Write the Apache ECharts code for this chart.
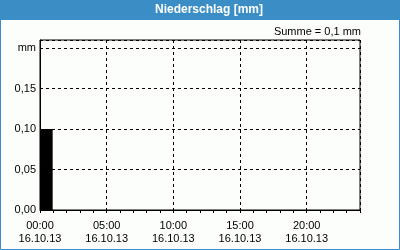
<!DOCTYPE html>
<html>
<head>
<meta charset="utf-8">
<script src="https://cdn.jsdelivr.net/npm/echarts@6/dist/echarts.min.js"></script>
<style>
html,body{margin:0;padding:0;background:#fcfefc;}
#chart{width:400px;height:250px;}
</style>
</head>
<body>
<div id="chart"></div>
<script>
// Hourly categories (16.10.13, 00:00 .. 23:00)
var hours = ['00','01','02','03','04','05','06','07','08','09','10','11',
             '12','13','14','15','16','17','18','19','20','21','22','23'];
// Hourly precipitation [mm]
var precipitation = [0.1,0,0,0,0,0,0,0,0,0,0,0,0,0,0,0,0,0,0,0,0,0,0,0];
// Tick labels
var timeLabels = ['00:00','05:00','10:00','15:00','20:00'];
var dateLabel = '16.10.13';
var yLabels = ['0,00','0,05','0,10','0,15','mm'];
var titleText = 'Niederschlag [mm]';

var total = precipitation.reduce(function(a,b){return a+b;},0);
var sumText = 'Summe = ' + total.toFixed(1).replace('.', ',') + ' mm';

var FONT = '"Liberation Sans", Arial, sans-serif';
var BLUE = '#3b8ec5';

var chart = echarts.init(document.getElementById('chart'), null, {renderer:'canvas'});
chart.setOption({
  animation: false,
  backgroundColor: '#fcfefc',
  grid: {left: 40, top: 40, right: 40, bottom: 40, show: true,
         borderColor: '#000', borderWidth: 1, backgroundColor: 'transparent'},
  graphic: [
    {type:'rect', shape:{x:0,y:0,width:400,height:20}, style:{fill:BLUE}, z:-1},
    {type:'rect', shape:{x:0.5,y:0.5,width:399,height:249}, style:{fill:null, stroke:BLUE, lineWidth:1}, z:-1},
    {type:'text', x:209, y:10, style:{text:titleText, fill:'#fff', font:'bold 12px ' + FONT,
      align:'center', verticalAlign:'middle'}},
    {type:'text', x:361, y:32, style:{text:sumText, fill:'#000', font:'11px ' + FONT,
      align:'right', verticalAlign:'middle'}}
  ],
  xAxis: [
    {
      type: 'category', data: hours, position: 'bottom', boundaryGap: true,
      axisLine: {show: true, lineStyle: {color: '#000', width: 1}},
      axisTick: {show: true, interval: 0, length: 3, lineStyle: {color: '#000'}},
      axisLabel: {show: false},
      splitLine: {show: false}
    },
    {
      type: 'value', min: 0, max: 24, interval: 5, position: 'bottom',
      axisLine: {show: false}, axisTick: {show: false},
      axisLabel: {
        show: true, margin: 9, fontFamily: FONT, fontSize: 11, color: '#000', lineHeight: 13,
        showMaxLabel: false,
        formatter: function (v) {
          var i = Math.round(v / 5);
          if (Math.abs(v - i * 5) > 1e-6 || !timeLabels[i]) return '';
          return timeLabels[i] + '\n' + dateLabel;
        }
      },
      splitLine: {show: true, lineStyle: {color: '#000', type: [3, 3], width: 1}}
    }
  ],
  yAxis: {
    type: 'value', min: 0, max: 0.21, interval: 0.05,
    axisLine: {show: true, lineStyle: {color: '#000', width: 1}},
    axisTick: {show: false},
    axisLabel: {
      margin: 4, fontFamily: FONT, fontSize: 11, color: '#000',
      formatter: function (v) {
        var i = Math.round(v / 0.05);
        if (Math.abs(v - i * 0.05) > 1e-6 || !yLabels[i]) return '';
        return yLabels[i];
      }
    },
    splitLine: {show: true, lineStyle: {color: '#000', type: [3, 3], width: 1}}
  },
  series: [{
    type: 'bar', xAxisIndex: 0, data: precipitation, barWidth: 12,
    itemStyle: {color: '#000'}
  }]
});
</script>
</body>
</html>
